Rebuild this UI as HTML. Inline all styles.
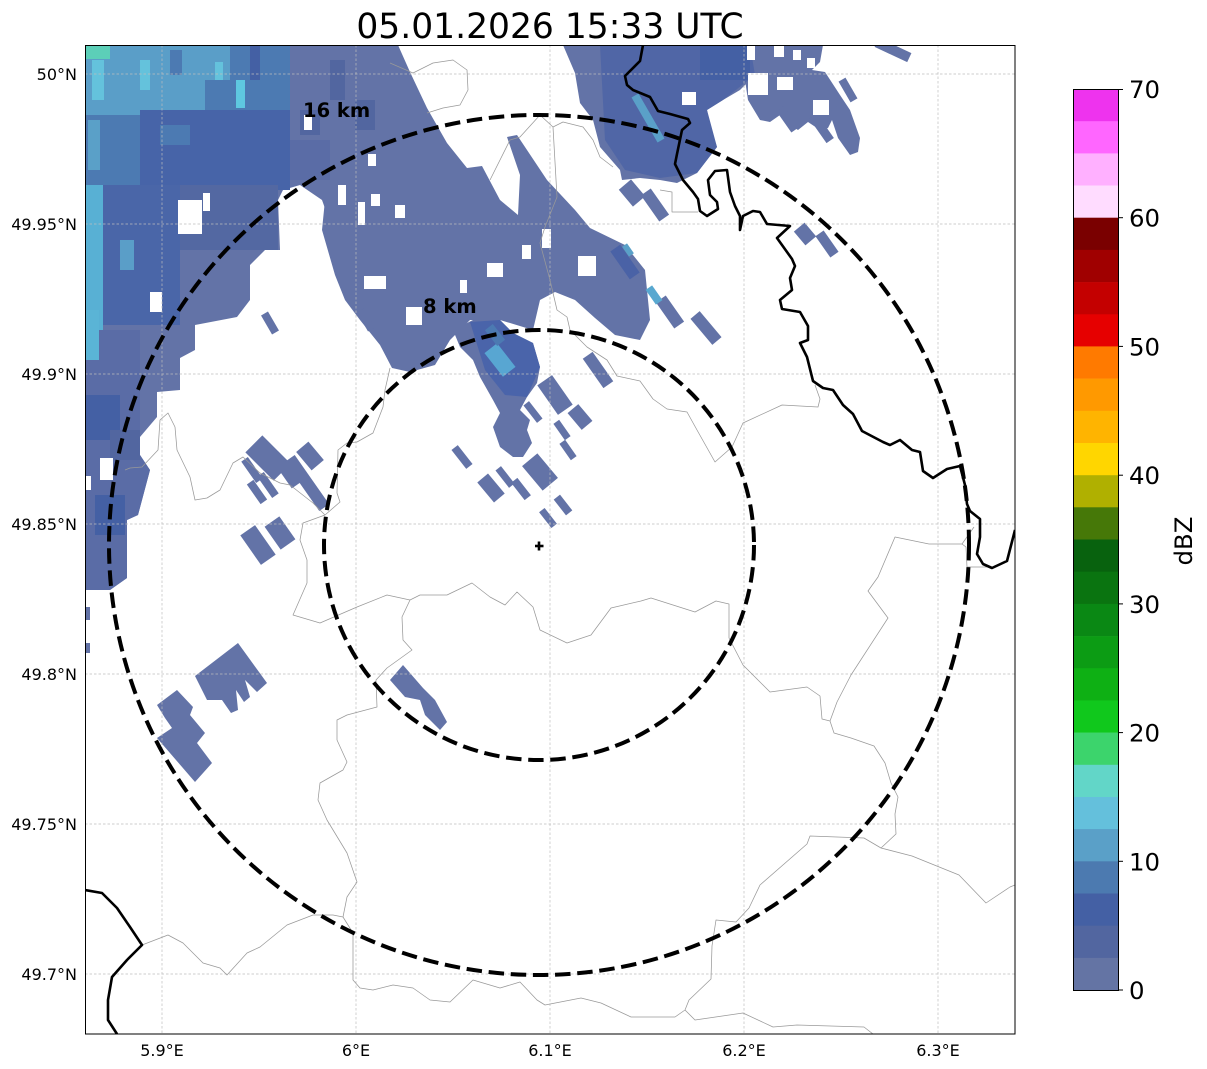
<!DOCTYPE html>
<html><head><meta charset="utf-8"><style>
html,body{margin:0;padding:0;background:#fff;}
svg{display:block;font-family:"DejaVu Sans","Liberation Sans",sans-serif;}
</style></head><body>
<svg width="1207" height="1069" viewBox="0 0 1207 1069" xmlns="http://www.w3.org/2000/svg">
<defs><clipPath id="ax"><rect x="85" y="45" width="930" height="989"/></clipPath></defs>
<rect width="1207" height="1069" fill="#fff"/>
<g clip-path="url(#ax)">
<g fill="#6373a7">
<polygon points="85,45 398,45 410,72 427,108 447,143 467,168 482,166 500,200 505,215 500,235 345,250 332,228 322,200 300,185 283,190 278,200 280,250 265,250 250,265 250,300 237,317 195,325 195,350 180,358 180,390 157,392 157,417 140,437 140,455 150,470 142,500 138,515 127,520 127,578 110,590 85,590"/>
<polygon points="335,275 322,230 325,200 420,200 500,200 518,215 520,175 507,137 517,135 547,180 575,210 590,228 625,245 645,270 650,320 640,340 615,335 595,318 575,300 555,292 540,300 533,330 500,320 470,320 450,340 435,365 410,372 392,368 380,345 360,320 345,300"/>
<polygon points="453,330 473,320 500,320 513,333 533,343 540,367 537,383 527,397 520,410 530,420 527,430 532,443 523,457 513,457 500,447 493,427 500,413 493,400 480,377 473,360 460,347"/>
<polygon points="563,45 750,45 755,75 740,90 723,100 707,110 710,127 717,147 707,160 697,173 677,183 660,180 640,178 622,180 620,170 600,147 593,120 580,103 575,73"/>
<polygon points="745,45 823,45 820,62 812,70 825,72 840,95 850,110 860,138 858,152 850,155 838,138 832,120 828,128 820,130 808,122 798,130 790,125 780,115 770,122 760,120 748,100 745,80"/>
<polygon points="195,676 238,643 267,683 257,692 245,680 250,697 244,702 236,690 238,710 231,713 222,700 207,700"/>
<polygon points="157,705 177,690 193,707 190,715 205,733 197,743 212,763 195,782 157,738 172,728 165,718"/>
<polygon points="390,680 403,665 423,688 435,700 447,722 440,730 425,715 420,700 405,697"/>
<rect x="85" y="580" width="7" height="10"/><rect x="85" y="607" width="5" height="13"/><rect x="85" y="643" width="5" height="10"/>
<!-- central pieces -->
<rect x="450" y="453" width="24" height="8" transform="rotate(52 462 457)"/>
<rect x="478" y="481" width="26" height="14" transform="rotate(50 491 488)"/>
<rect x="494" y="473.5" width="22" height="7" transform="rotate(52 505 477)"/>
<rect x="510" y="485" width="22" height="8" transform="rotate(52 521 489)"/>
<rect x="524" y="462" width="32" height="20" transform="rotate(50 540 472)"/>
<rect x="538" y="514.5" width="20" height="7" transform="rotate(52 548 518)"/>
<rect x="553" y="501" width="20" height="8" transform="rotate(52 563 505)"/>
<rect x="552" y="426.5" width="20" height="7" transform="rotate(55 562 430)"/>
<rect x="558" y="446.5" width="20" height="7" transform="rotate(55 568 450)"/>
<rect x="537" y="386" width="36" height="18" transform="rotate(55 555 395)"/>
<rect x="569" y="410" width="22" height="14" transform="rotate(50 580 417)"/>
<rect x="580" y="364" width="36" height="12" transform="rotate(55 598 370)"/>
<rect x="522" y="408.5" width="22" height="7" transform="rotate(52 533 412)"/>
<!-- left-middle cluster -->
<rect x="239" y="466" width="26" height="8" transform="rotate(55 252 470)"/>
<rect x="245" y="488" width="24" height="8" transform="rotate(55 257 492)"/>
<rect x="255" y="481" width="26" height="8" transform="rotate(55 268 485)"/>
<rect x="248" y="446" width="40" height="24" transform="rotate(45 268 458)"/>
<rect x="266" y="465" width="38" height="10" transform="rotate(55 285 470)"/>
<rect x="277" y="477" width="60" height="12" transform="rotate(55 307 483)"/>
<rect x="298" y="448" width="24" height="16" transform="rotate(50 310 456)"/>
<rect x="240" y="536" width="36" height="18" transform="rotate(55 258 545)"/>
<rect x="266" y="524" width="28" height="18" transform="rotate(55 280 533)"/>
<rect x="259" y="319" width="22" height="8" transform="rotate(60 270 323)"/>
<rect x="355" y="316" width="22" height="8" transform="rotate(60 366 320)"/>
<!-- right pieces -->
<rect x="621" y="185" width="22" height="16" transform="rotate(50 632 193)"/>
<rect x="639" y="199" width="32" height="12" transform="rotate(55 655 205)"/>
<rect x="654" y="306" width="32" height="12" transform="rotate(55 670 312)"/>
<rect x="689" y="322" width="34" height="12" transform="rotate(50 706 328)"/>
<rect x="796" y="227" width="18" height="14" transform="rotate(50 805 234)"/>
<rect x="814" y="239" width="26" height="10" transform="rotate(55 827 244)"/>
<rect x="807" y="124" width="30" height="9" transform="rotate(55 822 128)"/>
<rect x="825" y="121" width="40" height="9" transform="rotate(55 845 125)"/>
<rect x="836" y="86" width="24" height="8" transform="rotate(60 848 90)"/>
<rect x="875" y="45" width="36" height="10" transform="rotate(25 893 50)"/>
<rect x="775" y="115" width="26" height="9" transform="rotate(55 788 119)"/>
</g>
<!-- colour overlays -->
<rect x="85" y="45" width="145" height="70" fill="#5a9ec8"/>
<rect x="85" y="45" width="25" height="14" fill="#5ccfb8"/>
<rect x="92" y="60" width="12" height="40" fill="#64c2dc"/>
<rect x="140" y="60" width="10" height="30" fill="#64c2dc"/>
<rect x="170" y="50" width="12" height="25" fill="#4c7ab2"/>
<rect x="215" y="62" width="8" height="30" fill="#64c2dc"/>
<rect x="230" y="45" width="60" height="75" fill="#4c7ab2"/>
<rect x="236" y="80" width="9" height="28" fill="#5ec8e0"/>
<rect x="250" y="45" width="10" height="35" fill="#4460a4"/>
<rect x="205" y="80" width="25" height="30" fill="#4c7ab2"/>
<rect x="85" y="115" width="55" height="70" fill="#4c7ab2"/>
<rect x="88" y="120" width="12" height="50" fill="#5aa0c8"/>
<rect x="140" y="110" width="150" height="80" fill="#4764a8"/>
<rect x="160" y="125" width="30" height="20" fill="#4c7ab2"/>
<rect x="85" y="185" width="18" height="145" fill="#58b0d4"/>
<rect x="103" y="185" width="77" height="140" fill="#4a66a8"/>
<rect x="180" y="185" width="98" height="65" fill="#5368a2"/>
<rect x="120" y="240" width="14" height="30" fill="#5a9ec8"/>
<rect x="300" y="110" width="20" height="25" fill="#5266a0"/>
<rect x="330" y="60" width="15" height="40" fill="#5266a0"/>
<rect x="355" y="100" width="20" height="30" fill="#5266a0"/>
<rect x="290" y="140" width="40" height="40" fill="#5a6ca6"/>
<polygon points="85,330 140,330 140,437 140,455 150,470 142,500 138,515 127,520 127,578 110,590 85,590" fill="#5a6ca6"/>
<rect x="85" y="395" width="35" height="45" fill="#4460a4"/>
<rect x="95" y="495" width="30" height="40" fill="#4460a4"/>
<rect x="110" y="430" width="30" height="30" fill="#5266a0"/>
<rect x="85" y="310" width="14" height="50" fill="#5ab4d6"/>
<polygon points="600,45 750,45 755,75 723,100 707,110 717,147 697,173 660,178 625,170 605,140" fill="#5066a6"/>
<rect x="700" y="45" width="50" height="35" fill="#4460a4"/>
<rect x="622" y="114" width="52" height="8" fill="#5aa0c8" transform="rotate(60 648 118)"/>
<polygon points="470,322 500,320 513,333 533,343 540,367 527,397 505,395 485,370" fill="#4a64aa"/>
<rect x="485" y="352" width="30" height="16" fill="#58a6d2" transform="rotate(52 500 360)"/>
<rect x="485" y="330" width="20" height="10" fill="#4c7ab2" transform="rotate(52 495 335)"/>
<rect x="608" y="256" width="34" height="12" fill="#4a62a6" transform="rotate(55 625 262)"/>
<rect x="622" y="247" width="12" height="6" fill="#5aa0c8" transform="rotate(55 628 250)"/>
<rect x="645" y="291" width="18" height="8" fill="#58a8d0" transform="rotate(55 654 295)"/>
<!-- holes -->
<g fill="#fff">
<rect x="178" y="200" width="24" height="34"/>
<rect x="578" y="256" width="18" height="20"/>
<rect x="487" y="263" width="16" height="14"/>
<rect x="364" y="276" width="22" height="13"/>
<rect x="406" y="307" width="16" height="18"/>
<rect x="203" y="193" width="7" height="18"/>
<rect x="150" y="292" width="12" height="20"/>
<rect x="682" y="92" width="14" height="13"/>
<rect x="371" y="194" width="9" height="12"/>
<rect x="358" y="202" width="7" height="23"/>
<rect x="338" y="185" width="8" height="20"/>
<rect x="395" y="205" width="10" height="13"/>
<rect x="522" y="245" width="9" height="14"/>
<rect x="542" y="229" width="9" height="19"/>
<rect x="460" y="280" width="7" height="13"/>
<rect x="304" y="115" width="8" height="15"/>
<rect x="368" y="154" width="8" height="12"/>
<rect x="100" y="458" width="13" height="22"/>
<rect x="86" y="476" width="5" height="14"/>
<rect x="748" y="73" width="20" height="22"/>
<rect x="777" y="77" width="16" height="13"/>
<rect x="813" y="100" width="16" height="15"/>
<rect x="747" y="45" width="8" height="15"/>
<rect x="774" y="45" width="10" height="12"/>
<rect x="793" y="50" width="8" height="10"/>
<rect x="807" y="58" width="8" height="10"/>
</g>
<!-- gridlines -->
<g stroke="#bdbdbd" stroke-width="0.7" stroke-dasharray="2.5 2" fill="none">
<line x1="162" y1="45" x2="162" y2="1034"/><line x1="356" y1="45" x2="356" y2="1034"/><line x1="550" y1="45" x2="550" y2="1034"/><line x1="744" y1="45" x2="744" y2="1034"/><line x1="938" y1="45" x2="938" y2="1034"/>
<line x1="85" y1="74" x2="1015" y2="74"/><line x1="85" y1="224" x2="1015" y2="224"/><line x1="85" y1="374" x2="1015" y2="374"/><line x1="85" y1="524" x2="1015" y2="524"/><line x1="85" y1="674" x2="1015" y2="674"/><line x1="85" y1="824" x2="1015" y2="824"/><line x1="85" y1="974" x2="1015" y2="974"/>
</g>
<!-- thin admin borders -->
<g stroke="#999" stroke-width="0.75" fill="none" stroke-linejoin="round">
<polyline points="125,470 130,468 142,467 158,450 160,420 168,413 175,427 177,450 190,477 195,500 207,498 220,490 233,463 243,457 260,473 280,483 290,485 313,503 325,515 340,502 337,493 338,450 347,443 357,442 373,433 383,407 385,390 390,368"/>
<polyline points="325,515 303,523 300,540 307,560 307,583 293,615 320,623 357,607 387,595 410,600 420,595 447,595 472,583 490,597 505,605 517,592 533,607 540,630 567,643 591,635 611,608 641,601 651,598 695,612 716,601 729,604 729,638 743,665 770,692 807,687 820,696 822,719 830,721 834,733 851,738 874,746 885,763 891,783 898,797 895,814 896,834 881,848 864,838 810,836 807,844 760,885 749,908 736,922 716,920 712,946 711,979 689,1000 685,1010 675,1017 631,1017 601,1003 581,998 545,1005 537,1000 520,982 500,988 473,980 450,1002 430,1000 413,988 393,985 373,990 360,988 353,980 353,933 343,917 333,915 313,915 287,925 260,947 247,953 227,975 220,968 203,963 183,943 168,935 142,945"/>
<polyline points="410,600 402,617 403,640 412,650 387,668 376,680 377,707 347,715 337,720 337,740 347,762 343,770 320,783 318,800 327,820 347,853 357,882 347,897 343,917"/>
<polyline points="830,721 837,702 851,675 888,618 868,591 878,577 895,537 929,544 962,544 974,527"/>
<polyline points="962,544 966,547 967,567 990,567"/>
<polyline points="881,848 912,856 959,875 986,903 1010,887 1015,885"/>
<polyline points="685,1010 695,1020 743,1013 773,1027 797,1025 864,1027 873,1034"/>
<polyline points="390,63 413,73 433,63 453,60 467,70 468,90 460,105 443,108 427,113"/>
<polyline points="490,180 510,140 520,137 540,115 553,127 557,197 545,227 540,243 550,280 557,310 567,317 570,330 587,347 607,360 617,376 640,381 653,399 667,409 687,412 697,430 715,462 732,447 743,423 782,405 818,407 820,399 815,385"/>
<polyline points="553,127 563,122 583,127 593,140 600,157 613,167"/>
<polyline points="660,190 672,192 672,212 698,212"/>
</g>
<!-- thick borders -->
<g stroke="#000" stroke-width="2.6" fill="none" stroke-linejoin="round">
<polyline points="643,45 640,61 625,76 627,85 633,90 650,97 658,111 670,114 688,119 690,123 682,130 677,154 675,164 683,180 693,192 698,199 700,211 707,216 718,209 717,202 710,195 708,180 715,171 727,170 730,192 735,206 740,216 740,230 743,216 753,211 760,212 767,224 790,226 777,238 782,245 792,259 795,266 790,278 792,290 780,300 782,309 800,312 808,326 808,340 800,343 807,357 813,381 823,388 833,390 843,405 853,414 862,431 883,442 890,445 900,440 912,450 920,452 923,471 933,478 947,469 960,466 965,485 967,504 970,511 980,519 980,537 977,554 983,564 992,568 1007,561 1015,530"/>
<polyline points="85,890 102,893 117,908 130,927 142,945 127,960 112,977 108,1000 108,1020 117,1034"/>
</g>
</g>
<!-- range rings -->
<g fill="none" stroke="#000" stroke-width="4" stroke-dasharray="15.5 6.7">
<circle cx="539" cy="545" r="430"/>
<circle cx="539" cy="545" r="215"/>
</g>
<g stroke="#000" stroke-width="2.6"><line x1="535" y1="546" x2="543.5" y2="546"/><line x1="539" y1="541.5" x2="539" y2="550.5"/></g>
<text x="303" y="117" font-size="19.5" font-weight="bold" fill="#000">16 km</text>
<text x="423" y="313" font-size="19.5" font-weight="bold" fill="#000">8 km</text>
<rect x="85.5" y="45.5" width="929.5" height="988.5" fill="none" stroke="#000" stroke-width="1"/>
<!-- title -->
<text x="550" y="38" font-size="34.5" text-anchor="middle" fill="#000">05.01.2026 15:33 UTC</text>
<!-- axis labels -->
<g font-size="16" fill="#000" text-anchor="end">
<text x="77" y="80">50°N</text>
<text x="77" y="230">49.95°N</text>
<text x="77" y="380">49.9°N</text>
<text x="77" y="530">49.85°N</text>
<text x="77" y="680">49.8°N</text>
<text x="77" y="830">49.75°N</text>
<text x="77" y="980">49.7°N</text>
</g>
<g font-size="16" fill="#000" text-anchor="middle">
<text x="162" y="1056">5.9°E</text>
<text x="356" y="1056">6°E</text>
<text x="550" y="1056">6.1°E</text>
<text x="744" y="1056">6.2°E</text>
<text x="938" y="1056">6.3°E</text>
</g>
<!-- colorbar -->
<g>
<rect x="1073" y="89" width="45" height="32.5" fill="#ee33ee"/>
<rect x="1073" y="121.2" width="45" height="32.5" fill="#ff66ff"/>
<rect x="1073" y="153.4" width="45" height="32.5" fill="#ffb0ff"/>
<rect x="1073" y="185.5" width="45" height="32.5" fill="#ffdcff"/>
<rect x="1073" y="217.7" width="45" height="32.5" fill="#7a0000"/>
<rect x="1073" y="249.9" width="45" height="32.5" fill="#a00000"/>
<rect x="1073" y="282.1" width="45" height="32.5" fill="#c40000"/>
<rect x="1073" y="314.3" width="45" height="32.5" fill="#e60000"/>
<rect x="1073" y="346.4" width="45" height="32.5" fill="#ff7a00"/>
<rect x="1073" y="378.6" width="45" height="32.5" fill="#ff9900"/>
<rect x="1073" y="410.8" width="45" height="32.5" fill="#ffb400"/>
<rect x="1073" y="443" width="45" height="32.5" fill="#ffd600"/>
<rect x="1073" y="475.2" width="45" height="32.5" fill="#b0b000"/>
<rect x="1073" y="507.3" width="45" height="32.5" fill="#467808"/>
<rect x="1073" y="539.5" width="45" height="32.5" fill="#08620e"/>
<rect x="1073" y="571.7" width="45" height="32.5" fill="#0a7410"/>
<rect x="1073" y="603.9" width="45" height="32.5" fill="#0a8814"/>
<rect x="1073" y="636.1" width="45" height="32.5" fill="#0c9c14"/>
<rect x="1073" y="668.2" width="45" height="32.5" fill="#0eb014"/>
<rect x="1073" y="700.4" width="45" height="32.5" fill="#10c81c"/>
<rect x="1073" y="732.6" width="45" height="32.5" fill="#3cd46c"/>
<rect x="1073" y="764.8" width="45" height="32.5" fill="#62d6c8"/>
<rect x="1073" y="797" width="45" height="32.5" fill="#64c0dc"/>
<rect x="1073" y="829.1" width="45" height="32.5" fill="#5aa0c8"/>
<rect x="1073" y="861.3" width="45" height="32.5" fill="#4c7ab0"/>
<rect x="1073" y="893.5" width="45" height="32.5" fill="#4460a4"/>
<rect x="1073" y="925.7" width="45" height="32.5" fill="#5266a0"/>
<rect x="1073" y="957.9" width="45" height="32.1" fill="#6474a4"/>
<rect x="1073.5" y="89.5" width="45" height="901" fill="none" stroke="#000" stroke-width="1"/>
<g stroke="#000" stroke-width="1">
<line x1="1118" y1="89.5" x2="1123" y2="89.5"/><line x1="1118" y1="217.7" x2="1123" y2="217.7"/><line x1="1118" y1="346.4" x2="1123" y2="346.4"/><line x1="1118" y1="475.2" x2="1123" y2="475.2"/><line x1="1118" y1="603.9" x2="1123" y2="603.9"/><line x1="1118" y1="732.6" x2="1123" y2="732.6"/><line x1="1118" y1="861.3" x2="1123" y2="861.3"/><line x1="1118" y1="990" x2="1123" y2="990"/>
</g>
<g font-size="24.4" fill="#000">
<text x="1129" y="98">70</text>
<text x="1129" y="226.7">60</text>
<text x="1129" y="355.4">50</text>
<text x="1129" y="484.1">40</text>
<text x="1129" y="612.9">30</text>
<text x="1129" y="741.6">20</text>
<text x="1129" y="870.3">10</text>
<text x="1129" y="999">0</text>
</g>
<text transform="translate(1192,541) rotate(-90)" font-size="24.4" text-anchor="middle" fill="#000">dBZ</text>
</g>
</svg>
</body></html>
